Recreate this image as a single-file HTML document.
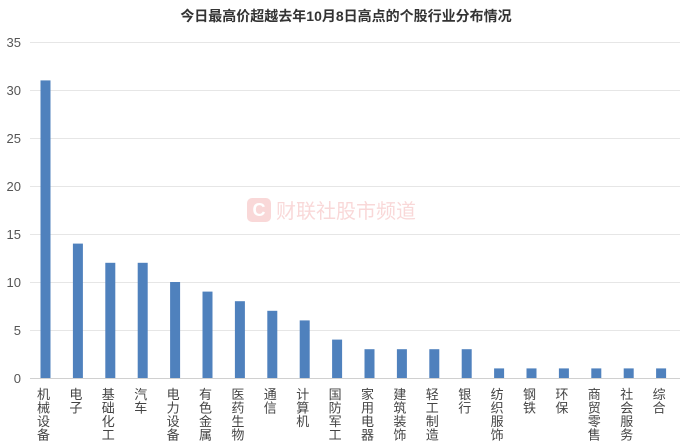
<!DOCTYPE html>
<html><head><meta charset="utf-8"><style>
html,body{margin:0;padding:0;background:#fff;}
svg{display:block;font-family:"Liberation Sans","Noto Sans CJK SC",sans-serif;}
</style></head><body>
<svg width="692" height="446" viewBox="0 0 692 446">
<text x="346" y="21" text-anchor="middle" font-size="14" font-weight="bold" fill="#333">今日最高价超越去年10月8日高点的个股行业分布情况</text>
<g stroke="#e6e6e6" stroke-width="1">
<line x1="30" y1="42.5" x2="680" y2="42.5"/>
<line x1="30" y1="90.5" x2="680" y2="90.5"/>
<line x1="30" y1="138.5" x2="680" y2="138.5"/>
<line x1="30" y1="186.5" x2="680" y2="186.5"/>
<line x1="30" y1="234.5" x2="680" y2="234.5"/>
<line x1="30" y1="282.5" x2="680" y2="282.5"/>
<line x1="30" y1="330.5" x2="680" y2="330.5"/>
</g>
<line x1="30" y1="378.5" x2="680" y2="378.5" stroke="#d0d0d0"/>
<g font-size="13" fill="#555" text-anchor="end">
<text x="21" y="47">35</text><text x="21" y="95">30</text><text x="21" y="143">25</text><text x="21" y="191">20</text><text x="21" y="239">15</text><text x="21" y="287">10</text><text x="21" y="335">5</text><text x="21" y="383">0</text>
</g>
<g opacity="0.18">
<rect x="247" y="198" width="24" height="24" rx="5" fill="#e03030"/>
<text x="259" y="216" text-anchor="middle" font-size="18" font-weight="bold" fill="#fff">C</text>
<text x="276" y="218" font-size="20" fill="#e03030">财联社股市频道</text>
</g>
<g id="bars" fill="#4f81bd"></g>
<g id="labels" font-size="13" fill="#444" text-anchor="middle"></g>
</svg>
<script>
var d=[["机械设备",31],["电子",14],["基础化工",12],["汽车",12],["电力设备",10],["有色金属",9],["医药生物",8],["通信",7],["计算机",6],["国防军工",4],["家用电器",3],["建筑装饰",3],["轻工制造",3],["银行",3],["纺织服饰",1],["钢铁",1],["环保",1],["商贸零售",1],["社会服务",1],["综合",1]];
var b=document.getElementById('bars'),l=document.getElementById('labels'),ns="http://www.w3.org/2000/svg";
d.forEach(function(e,i){
 var cx=45.5+i*32.4,h=e[1]*9.6;
 var r=document.createElementNS(ns,'rect');
 r.setAttribute('x',cx-5);r.setAttribute('y',378-h);r.setAttribute('width',10);r.setAttribute('height',h);b.appendChild(r);
 for(var k=0;k<e[0].length;k++){
  var t=document.createElementNS(ns,'text');
  t.setAttribute('x',cx-2);t.setAttribute('y',399+k*13.5);t.textContent=e[0][k];l.appendChild(t);
 }
});
</script>
</body></html>
